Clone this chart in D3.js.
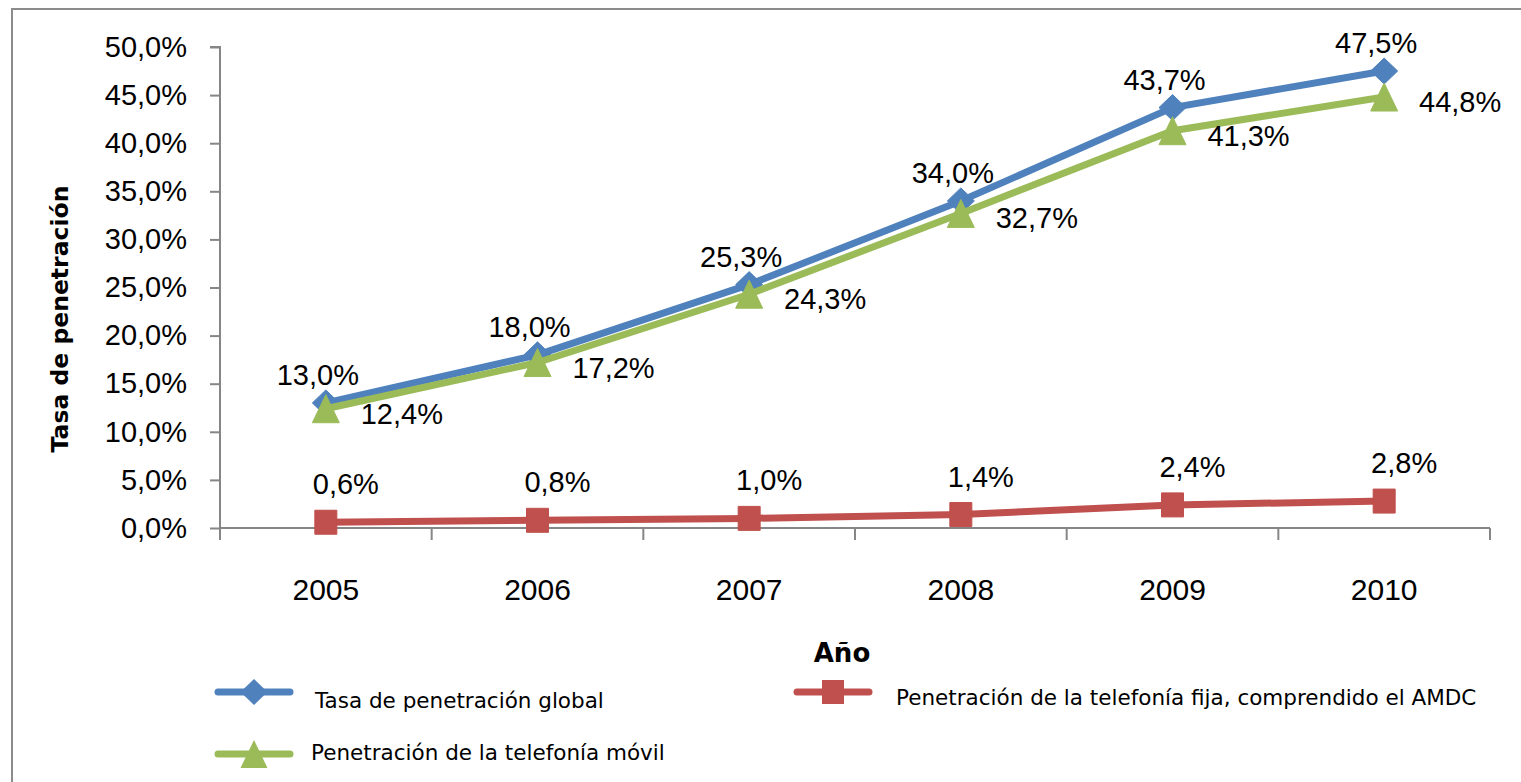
<!DOCTYPE html>
<html>
<head>
<meta charset="utf-8">
<script src="https://cdn.jsdelivr.net/npm/d3@7"></script>
<style>
    body { margin: 0; background: #fff; }
    text { font-family: "Liberation Sans", Arial, sans-serif; fill: #000; }
    .axis path, .axis line { stroke: #868686; stroke-width: 2; }
    .axis text { font-size: 29px; }
    .dataLabel { font-size: 29px; }
    .legendText { font-family: "DejaVu Sans", Verdana, sans-serif; font-size: 21.5px; }
    .axisTitle { font-family: "DejaVu Sans", Verdana, sans-serif; font-weight: bold; }
</style>
</head>
<body>
<script>
(function(){

    //chart data
    var years = ["2005", "2006", "2007", "2008", "2009", "2010"];
    var global = [13.0, 18.0, 25.3, 34.0, 43.7, 47.5];   //Tasa de penetración global
    var movil = [12.4, 17.2, 24.3, 32.7, 41.3, 44.8];    //telefonía móvil
    var fija = [0.6, 0.8, 1.0, 1.4, 2.4, 2.8];           //telefonía fija
    var yTicks = [0, 5, 10, 15, 20, 25, 30, 35, 40, 45, 50];

    var seriesNames = ["Tasa de penetración global", "Penetración de la telefonía fija, comprendido el AMDC", "Penetración de la telefonía móvil"];

    var width = 1521, height = 782;

    var svg = d3.select("body")
        .append("svg")
        .attr("width", width)
        .attr("height", height);

    //chart frame
    svg.append("rect")
        .attr("x", 12)
        .attr("y", 9)
        .attr("width", 1700)
        .attr("height", 1000)
        .attr("fill", "#fff")
        .attr("stroke", "#8c8c8c")
        .attr("stroke-width", 2);

    //scales
    var x = d3.scaleBand()
        .domain(years)
        .range([220, 1490])
        .padding(0);

    var y = d3.scaleLinear()
        .domain([0, 50])
        .range([528, 47]);

    var fmt = function(v){ return v.toFixed(1).replace(".", ",") + "%"; };

    //y axis
    var yAxis = d3.axisLeft(y)
        .tickValues(yTicks)
        .tickSize(10)
        .tickPadding(23)
        .tickFormat(fmt);

    svg.append("g")
        .attr("class", "axis")
        .attr("transform", "translate(220,0)")
        .call(yAxis)
        .call(function(g){ g.select(".domain").attr("d", "M-10,47H0V528"); });

    //x axis, ticks at category boundaries
    var xAxis = svg.append("g")
        .attr("class", "axis")
        .attr("transform", "translate(0,528)");

    xAxis.append("path")
        .attr("d", "M" + x.range()[0] + ",0H" + x.range()[1])
        .attr("fill", "none");

    var bounds = years.map(function(d){ return x(d); }).concat([x.range()[1]]);
    xAxis.selectAll(".bTick")
        .data(bounds)
        .enter()
        .append("line")
        .attr("x1", function(d){ return d; })
        .attr("x2", function(d){ return d; })
        .attr("y1", 0)
        .attr("y2", 12);

    xAxis.selectAll(".xLabel")
        .data(years)
        .enter()
        .append("text")
        .attr("x", function(d){ return x(d) + x.bandwidth() / 2; })
        .attr("y", 72)
        .attr("text-anchor", "middle")
        .style("font-size", "30px")
        .text(function(d){ return d; });

    //axis titles
    svg.append("text")
        .attr("class", "axisTitle")
        .attr("transform", "translate(68,319) rotate(-90)")
        .attr("text-anchor", "middle")
        .style("font-size", "23.5px")
        .text("Tasa de penetración");

    svg.append("text")
        .attr("class", "axisTitle")
        .attr("x", 842)
        .attr("y", 662)
        .attr("text-anchor", "middle")
        .style("font-size", "26px")
        .text("Año");

    var cx = function(d, i){ return x(years[i]) + x.bandwidth() / 2; };

    var series = [
        { name: seriesNames[0], values: global, color: "#4F81BD", marker: "diamond", dx: -8, dy: -18 },
        { name: seriesNames[2], values: movil, color: "#9BBB59", marker: "triangle", dx: 76, dy: 15 },
        { name: seriesNames[1], values: fija, color: "#C0504D", marker: "square", dx: 20, dy: -28 }
    ];

    var line = d3.line()
        .x(cx)
        .y(function(d){ return y(d); });

    function markerPath(type){
        if (type === "diamond") return "M0,-13L13.5,0L0,13L-13.5,0Z";
        if (type === "triangle") return "M0,-14L13.5,14L-13.5,14Z";
        return "M-11,-12H11V12H-11Z";
    }

    series.forEach(function(s){
        svg.append("path")
            .datum(s.values)
            .attr("d", line)
            .attr("fill", "none")
            .attr("stroke", s.color)
            .attr("stroke-width", 7)
            .attr("stroke-linejoin", "round");

        svg.selectAll(".m-" + s.marker)
            .data(s.values)
            .enter()
            .append("path")
            .attr("class", "m-" + s.marker)
            .attr("transform", function(d, i){ return "translate(" + cx(d, i) + "," + y(d) + ")"; })
            .attr("d", markerPath(s.marker))
            .attr("fill", s.color)
            .attr("stroke", s.color)
            .attr("stroke-width", 1)
            .attr("stroke-linejoin", "round");
    });

    //data labels
    series.forEach(function(s){
        svg.selectAll(".lbl-" + s.marker)
            .data(s.values)
            .enter()
            .append("text")
            .attr("class", "dataLabel lbl-" + s.marker)
            .attr("x", function(d, i){ return cx(d, i) + s.dx; })
            .attr("y", function(d){ return y(d) + s.dy; })
            .attr("text-anchor", "middle")
            .text(fmt);
    });

    //legend
    var legendItems = [
        { s: series[0], lx: 218, ly: 692, tx: 315, ty: 708 },
        { s: series[2], lx: 797, ly: 692, tx: 896, ty: 705 },
        { s: series[1], lx: 218, ly: 754, tx: 311, ty: 760 }
    ];

    var legend = svg.selectAll(".legend")
        .data(legendItems)
        .enter()
        .append("g")
        .attr("class", "legend");

    legend.append("line")
        .attr("x1", function(d){ return d.lx; })
        .attr("x2", function(d){ return d.lx + 72; })
        .attr("y1", function(d){ return d.ly; })
        .attr("y2", function(d){ return d.ly; })
        .attr("stroke", function(d){ return d.s.color; })
        .attr("stroke-width", 7)
        .attr("stroke-linecap", "round");

    legend.append("path")
        .attr("transform", function(d){ return "translate(" + (d.lx + 36) + "," + d.ly + ")"; })
        .attr("d", function(d){ return markerPath(d.s.marker); })
        .attr("fill", function(d){ return d.s.color; });

    legend.append("text")
        .attr("class", "legendText")
        .attr("x", function(d){ return d.tx; })
        .attr("y", function(d){ return d.ty; })
        .text(function(d){ return d.s.name; });

})();
</script>
</body>
</html>
